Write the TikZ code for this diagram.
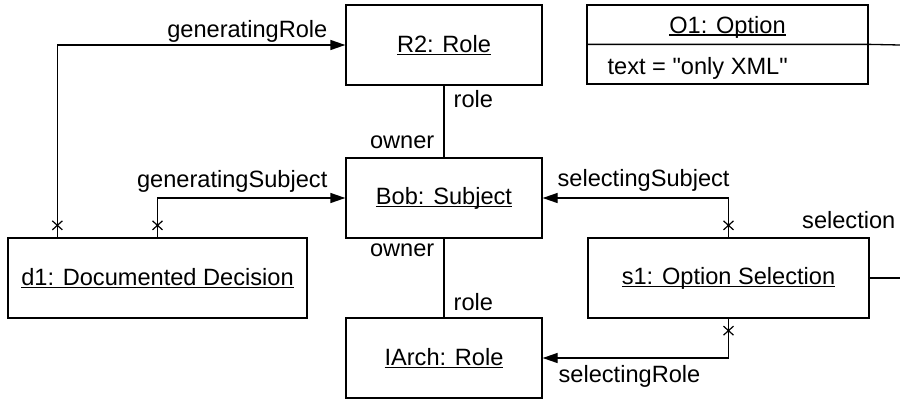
\documentclass[tikz,border=0pt]{standalone}
\usepackage{fontspec}
\setmainfont{Liberation Sans}
\usetikzlibrary{arrows.meta,calc}
% underlined object name with the rule just below the baseline
\newcommand{\ulbox}[1]{\setbox0\hbox{#1}\rlap{\vrule height -1.4pt depth 2.7pt width \wd0}\box0}
% straight double quote, set as a glyph so no text mapping curls it
\newcommand{\sq}{\XeTeXglyph\XeTeXcharglyph"22\relax}
\tikzset{
  obj/.style={draw, rectangle, inner sep=0pt, minimum height=80pt},
  assoc/.style={-{Triangle[length=15pt,width=10pt]}},
  lbl/.style={inner sep=0pt},
  xmark/.pic={\draw[line width=1.2pt] (-5,-4.5) -- (5,4.5) (-5,4.5) -- (5,-4.5);}
}
\begin{document}
\begin{tikzpicture}[x=1pt, y=-1pt, line width=1.3pt,
    font=\fontsize{23.6}{28}\selectfont]
  \useasboundingbox (0,0) rectangle (900,399);

  % objects
  \node[obj, minimum width=196pt] (R2)    at (444,45)    {\ulbox{R2: Role}};
  \node[obj, minimum width=196pt] (Bob)   at (444,198)   {\ulbox{Bob: Subject}};
  \node[obj, minimum width=196pt] (IArch) at (444,358)   {\ulbox{IArch: Role}};
  \node[obj, minimum width=299pt] (d1)    at (157.5,278) {\ulbox{d1: Documented Decision}};
  \node[obj, minimum width=281pt] (s1)    at (728.5,278) {\ulbox{s1: Option Selection}};
  \node[obj, minimum width=281pt, minimum height=79pt] (O1) at (727.5,44.5) {};
  \node[lbl, anchor=base] (O1name) at (727.5,33) {\ulbox{O1: Option}};
  \node[lbl, anchor=base west] (O1attr) at (607,74) {text = \sq only XML\sq};

  % compartment divider and the link leaving to the right
  \coordinate (O1divL) at ($(O1.north west)+(0,40)$);
  \coordinate (O1divR) at ($(O1.north east)+(0,40)$);
  \coordinate (O1out) at (900,45);
  \draw (O1divL) -- (O1divR) -- (O1out);
  \coordinate (s1out) at (900,278);
  \draw (s1.east) -- (s1out);

  % associations
  \coordinate (d1a) at ($(d1.north west)+(50,0)$);
  \draw (R2.south) -- (Bob.north);
  \draw (Bob.south) -- (IArch.north);
  \draw[assoc] (d1a) |- (R2.west);
  \draw[assoc] (d1.north) |- (Bob.west);
  \draw[assoc] (s1.north) |- (Bob.east);
  \draw[assoc] (s1.south) |- (IArch.east);

  % navigability crosses
  \pic at ($(d1a)+(0,-12)$) {xmark};
  \pic at ($(d1.north)+(0,-12)$) {xmark};
  \pic at ($(s1.north)+(0,-12)$) {xmark};
  \pic at ($(s1.south)+(0,12)$) {xmark};

  % role names
  \node[lbl, anchor=base east] (lGR)  at (328,37)  {generatingRole};
  \node[lbl, anchor=base west] (lR1)  at (453,107) {role};
  \node[lbl, anchor=base east] (lO1)  at (435,148) {owner};
  \node[lbl, anchor=base east] (lO2)  at (435,256) {owner};
  \node[lbl, anchor=base west] (lR2)  at (453,310) {role};
  \node[lbl, anchor=base east] (lGS)  at (328,187) {generatingSubject};
  \node[lbl, anchor=base west] (lSS)  at (557,186) {selectingSubject};
  \node[lbl, anchor=base east] (lSel) at (896,228) {selection};
  \node[lbl, anchor=base west] (lSR)  at (558,382) {selectingRole};
\end{tikzpicture}
\end{document}
